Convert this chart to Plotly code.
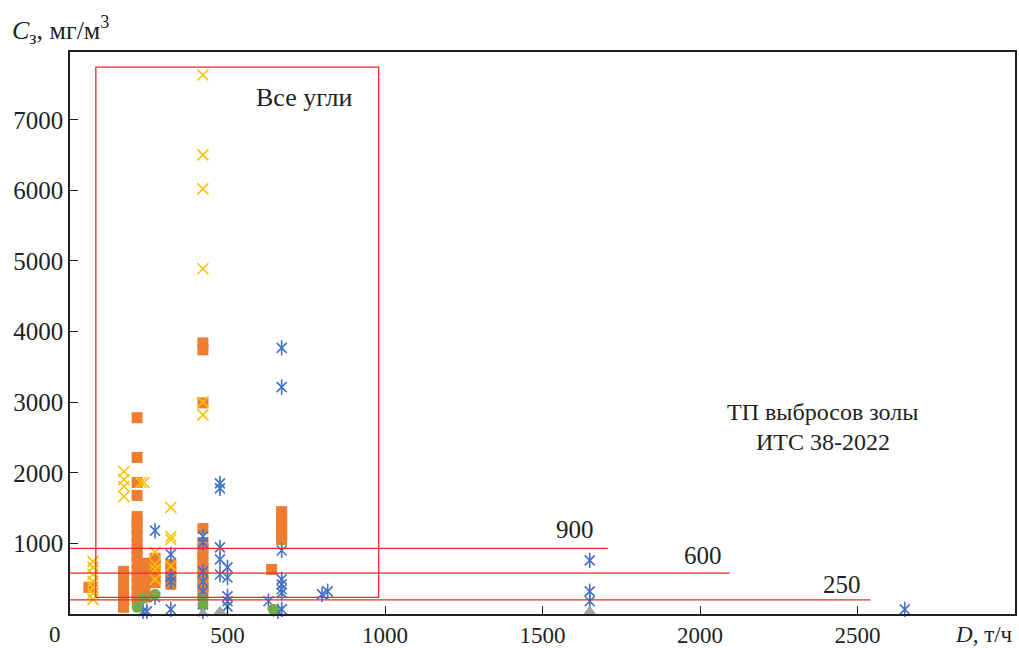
import plotly.graph_objects as go

# ---- data ----
orange_x = [60,
            170, 170, 170, 170, 170, 170, 170,
            213, 213, 213, 213, 213, 213, 213, 213, 213, 213, 213, 213, 213, 213, 213, 213, 213,
            238, 238, 238, 238, 238, 238,
            270, 270, 270, 270, 270,
            320, 320, 320, 320,
            422, 422, 422, 422, 422, 422, 422, 422, 422, 422, 422, 422, 422,
            640,
            672, 672, 672, 672, 672, 672]
orange_y = [378,
            604, 519, 434, 349, 264, 180, 95,
            2780, 2217, 1863, 1679, 1380, 1300, 1200, 1110, 1013, 913, 820, 720, 620, 520, 420, 320, 208,
            720, 620, 520, 420, 320, 240,
            790, 700, 610, 520, 445,
            700, 610, 520, 420,
            3840, 3741, 2990, 1210, 1010, 920, 830, 740, 650, 560, 470, 380, 300,
            632,
            1450, 1370, 1290, 1210, 1130, 1055]

yellow_x = [73, 73, 73, 73, 73, 73, 73,
            171, 171, 171, 171,
            225, 235,
            270, 270, 270, 270,
            320, 320, 320, 320,
            422, 422, 422, 422, 422, 422]
yellow_y = [745, 660, 561, 462, 377, 292, 208,
            2018, 1905, 1806, 1665,
            1863, 1863,
            875, 705, 632, 490,
            1508, 1098, 1055, 680,
            7634, 6502, 6021, 4890, 3000, 2820]

blue_x = [232, 244,
          270, 270,
          320, 320, 320, 320,
          422, 422, 422, 422, 422, 422, 422,
          476, 476, 476, 476, 476,
          500, 500, 500, 500, 500,
          630,
          672, 672, 672, 672, 672, 672, 672, 672, 660,
          800, 818,
          1650, 1650, 1650,
          2650]
blue_y = [38, 38,
          1180, 238,
          845, 530, 460, 66,
          1100, 1010, 600, 460, 320, 137, 38,
          1850, 1780, 943, 773, 560,
          660, 517, 250, 180, 108,
          180,
          3770, 3213, 900, 490, 420, 350, 300, 66, 38,
          277, 321,
          760, 321, 180,
          66]

green_x = [213, 232, 270, 422, 422, 645]
green_y = [95, 222, 279, 208, 137, 66]

gray_x = [422, 476, 1650]
gray_y = [10, 38, 38]

# limit lines (ТП выбросов золы)
limit_labels = ["900", "600", "250"]
limit_y = [930, 580, 200]
limit_xend = [1707, 2094, 2541]
limit_label_x = [1602, 2008, 2452]
limit_label_y = [1198, 830, 419]

# "Все угли" box
box_x = [82, 980]
box_y = [236, 7747]

x_ticks = [500, 1000, 1500, 2000, 2500]
y_ticks = [1000, 2000, 3000, 4000, 5000, 6000, 7000]

FONT = "Liberation Serif"
TXT = "#231F20"
RED = "#F0262C"
YEL = "#FFC000"
BLU = "#4472C4"

fig = go.Figure()

fig.add_trace(go.Scatter(x=orange_x, y=orange_y, mode="markers",
                         marker=dict(symbol="square", size=11, color="#ED7D31"),
                         cliponaxis=False, showlegend=False))
fig.add_trace(go.Scatter(x=yellow_x, y=yellow_y, mode="markers",
                         marker=dict(symbol="x-thin-open", size=11, color=YEL,
                                     line=dict(color=YEL, width=1.6)),
                         cliponaxis=False, showlegend=False))
fig.add_trace(go.Scatter(x=blue_x, y=blue_y, mode="markers",
                         marker=dict(symbol="x-thin-open", size=10, color=BLU,
                                     line=dict(color=BLU, width=1.6)),
                         cliponaxis=False, showlegend=False))
fig.add_trace(go.Scatter(x=blue_x, y=blue_y, mode="markers",
                         marker=dict(symbol="line-ns-open", size=11, color=BLU,
                                     line=dict(color=BLU, width=1.6)),
                         cliponaxis=False, showlegend=False))
fig.add_trace(go.Scatter(x=green_x, y=green_y, mode="markers",
                         marker=dict(symbol="circle", size=11, color="#70AD47"),
                         cliponaxis=False, showlegend=False))
fig.add_trace(go.Scatter(x=gray_x, y=gray_y, mode="markers",
                         marker=dict(symbol="triangle-up", size=11, color="#A5A5A5"),
                         cliponaxis=False, showlegend=False))

# red box
fig.add_shape(type="rect", x0=box_x[0], x1=box_x[1], y0=box_y[0], y1=box_y[1],
              line=dict(color=RED, width=1.3), layer="above")
# limit lines
for ly, xe, lab, lx, lyy in zip(limit_y, limit_xend, limit_labels, limit_label_x, limit_label_y):
    fig.add_shape(type="line", x0=0, x1=xe, y0=ly, y1=ly,
                  line=dict(color=RED, width=1.3), layer="above")
    fig.add_annotation(x=lx, y=lyy, text=lab, showarrow=False,
                       font=dict(family=FONT, size=25, color=TXT))

fig.add_annotation(x=746, y=7322, text="Все угли", showarrow=False,
                   font=dict(family=FONT, size=26, color=TXT))
fig.add_annotation(x=2389, y=2867, text="ТП выбросов золы", showarrow=False,
                   font=dict(family=FONT, size=24, color=TXT))
fig.add_annotation(x=2389, y=2443, text="ИТС 38-2022", showarrow=False,
                   font=dict(family=FONT, size=24, color=TXT))

# axis titles
fig.add_annotation(xref="paper", yref="paper", x=-0.064, y=1.04, xanchor="left", yanchor="middle",
                   text="<i>C</i><sub>з</sub>, мг/м<sup>3</sup>", showarrow=False,
                   font=dict(family=FONT, size=26, color=TXT))
fig.add_annotation(xref="paper", yref="paper", x=1.0, y=-0.037, xanchor="right", yanchor="middle",
                   text="<i>D</i>, т/ч", showarrow=False,
                   font=dict(family=FONT, size=23, color=TXT))
fig.add_annotation(xref="paper", yref="paper", x=-0.016, y=-0.037, xanchor="center", yanchor="middle",
                   text="0", showarrow=False,
                   font=dict(family=FONT, size=23, color=TXT))

fig.update_xaxes(range=[0, 3000], tickvals=x_ticks, ticks="inside", ticklen=8,
                 tickcolor=TXT, tickwidth=1.3, automargin=False,
                 showline=True, linecolor=TXT, linewidth=1.5, mirror=True,
                 showgrid=False, zeroline=False,
                 tickfont=dict(family=FONT, size=23, color=TXT))
fig.update_yaxes(range=[0, 7960], tickvals=y_ticks, ticks="inside", ticklen=8,
                 tickcolor=TXT, tickwidth=1.3, automargin=False,
                 showline=True, linecolor=TXT, linewidth=1.5, mirror=True,
                 showgrid=False, zeroline=False,
                 tickfont=dict(family=FONT, size=25, color=TXT))

fig.update_layout(width=1019, height=648,
                  margin=dict(l=70, r=4, t=52, b=34),
                  plot_bgcolor="white", paper_bgcolor="white")

fig.write_html("out.html", config={"displayModeBar": False},
               post_script="document.body.style.margin='0';document.body.style.overflow='hidden';")
